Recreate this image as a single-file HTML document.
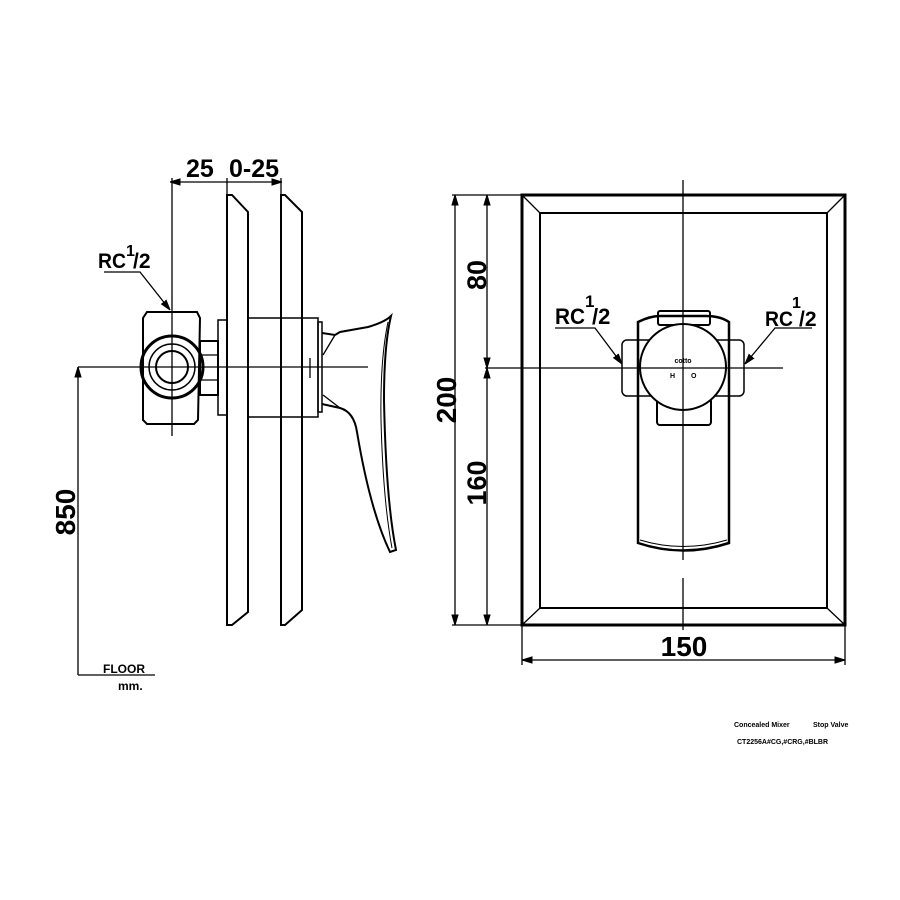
<!DOCTYPE html>
<html><head><style>body{margin:0;background:#fff}svg{display:block}</style></head><body>
<svg width="900" height="900" viewBox="0 0 900 900" xmlns="http://www.w3.org/2000/svg" font-family="Liberation Sans, sans-serif" font-weight="bold">
<defs><marker id="a" viewBox="0 0 10 10" refX="10" refY="5" markerWidth="8" markerHeight="8" orient="auto-start-reverse"><path d="M0,2 L10,5 L0,8 Z" fill="#000" stroke="#000" stroke-width="1"/></marker></defs>
<g stroke="#000" fill="none" stroke-width="1.3">
<line x1="170" y1="182" x2="282" y2="182" marker-start="url(#a)" marker-end="url(#a)"/>
<line x1="172" y1="178" x2="172" y2="436"/>
<line x1="227" y1="178" x2="227" y2="195"/>
<line x1="281" y1="178" x2="281" y2="195"/>
<path d="M227,195 L232,195 L248,212 L248,612 L232,625 L227,625 Z" stroke-width="2"/>
<path d="M281,195 L285,195 L302,212 L302,610 L285,625 L281,625 Z" stroke-width="2"/>
<path d="M147,312 L197,312 L200,318 L198,420 L194,424 L147,424 L143,420 L143,318 Z" stroke-width="2"/>
<circle cx="172" cy="367" r="31" stroke-width="3"/>
<circle cx="172" cy="367" r="23" stroke-width="1.5"/>
<circle cx="172" cy="367" r="16" stroke-width="2"/>
<rect x="200" y="341" width="18" height="54" stroke-width="2"/>
<line x1="200" y1="355" x2="218" y2="355"/><line x1="200" y1="380" x2="218" y2="380"/>
<rect x="218" y="320" width="9" height="95" stroke-width="1.5"/>
<rect x="248" y="318" width="70" height="99" stroke-width="1.5"/>
<rect x="318" y="322" width="4" height="90" stroke-width="1.5"/>
<path d="M322,333 L335,335 L340,332 L368,327 Q385,322 391,316 Q384,345 384,400 Q386,500 396,550 L390,552 Q370,510 357,432 Q354,412 340,408 L322,404" stroke-width="2"/>
<path d="M335,335 L323,355 M323,395 L340,408"/>
<path d="M388,322 Q380,360 381,420 Q383,500 392,548" stroke-width="1"/>
<line x1="78" y1="367" x2="368" y2="367"/>
<line x1="310" y1="358" x2="310" y2="378"/>
<line x1="78" y1="367" x2="78" y2="675" marker-start="url(#a)"/>
<line x1="78" y1="675" x2="155" y2="675"/>
<path d="M104,272 L140,272 L170,310" marker-end="url(#a)"/>
<rect x="522" y="195" width="323" height="430" stroke-width="3"/>
<rect x="540" y="213" width="287" height="395" stroke-width="2"/>
<path d="M522,195 L540,213 M845,195 L827,213 M522,625 L540,608 M845,625 L827,608"/>
<line x1="683" y1="180" x2="683" y2="560"/><line x1="683" y1="578" x2="683" y2="630"/>
<line x1="485" y1="368" x2="783" y2="368"/>
<line x1="452" y1="195" x2="522" y2="195"/><line x1="452" y1="625" x2="522" y2="625"/>
<line x1="455" y1="195" x2="455" y2="625" marker-start="url(#a)" marker-end="url(#a)"/>
<line x1="487" y1="195" x2="487" y2="368" marker-start="url(#a)" marker-end="url(#a)"/>
<line x1="487" y1="368" x2="487" y2="625" marker-start="url(#a)" marker-end="url(#a)"/>
<line x1="522" y1="625" x2="522" y2="665"/><line x1="845" y1="625" x2="845" y2="665"/>
<line x1="522" y1="660" x2="845" y2="660" marker-start="url(#a)" marker-end="url(#a)"/>
<path d="M638,322 Q650,316 660,316 L706,316 Q720,316 729,322 L729,543 Q683,558 638,543 Z" stroke-width="2.5"/>
<path d="M640,540 Q683,553 727,540" stroke-width="1"/>
<rect x="658" y="311" width="52" height="14" rx="2" stroke-width="2"/>
<rect x="657" y="398" width="54" height="27" rx="3" stroke-width="2"/>
<rect x="622" y="340" width="122" height="56" rx="5" stroke-width="1.5"/>
<circle cx="683" cy="367" r="43" fill="#fff" stroke-width="2"/>
<line x1="683" y1="324" x2="683" y2="410"/>
<line x1="640" y1="368" x2="726" y2="368"/>
<path d="M555,328 L595,328 L622,364" marker-end="url(#a)"/>
<path d="M812,328 L775,328 L745,364" marker-end="url(#a)"/>
</g>
<g fill="#000">
<text x="186" y="177" font-size="25">25</text>
<text x="229" y="177" font-size="25">0-25</text>
<text x="98" y="268" font-size="21" textLength="28" lengthAdjust="spacingAndGlyphs">RC</text><text x="126" y="256" font-size="16">1</text><text x="133" y="268" font-size="21">/2</text>
<text transform="translate(75,512) rotate(-90)" text-anchor="middle" font-size="28">850</text>
<text x="103" y="673" font-size="12">FLOOR</text>
<text x="118" y="690" font-size="12">mm.</text>
<text transform="translate(486,275) rotate(-90)" text-anchor="middle" font-size="27">80</text>
<text transform="translate(486,483) rotate(-90)" text-anchor="middle" font-size="27">160</text>
<text transform="translate(456,400) rotate(-90)" text-anchor="middle" font-size="28">200</text>
<text x="684" y="656" text-anchor="middle" font-size="28">150</text>
<text x="555" y="324" font-size="22" textLength="30" lengthAdjust="spacingAndGlyphs">RC</text><text x="585" y="307" font-size="17">1</text><text x="592" y="324" font-size="22">/2</text>
<text x="765" y="326" font-size="21" textLength="28" lengthAdjust="spacingAndGlyphs">RC</text><text x="792" y="308" font-size="16">1</text><text x="799" y="326" font-size="21">/2</text>
<text x="683" y="363" text-anchor="middle" font-size="7">cotto</text>
<text x="670" y="378" font-size="7">H</text><text x="691" y="378" font-size="7">O</text>
<text x="734" y="727" font-size="7">Concealed Mixer</text>
<text x="813" y="727" font-size="7">Stop Valve</text>
<text x="737" y="744" font-size="7">CT2256A#CG,#CRG,#BLBR</text>
</g>
</svg>
</body></html>
